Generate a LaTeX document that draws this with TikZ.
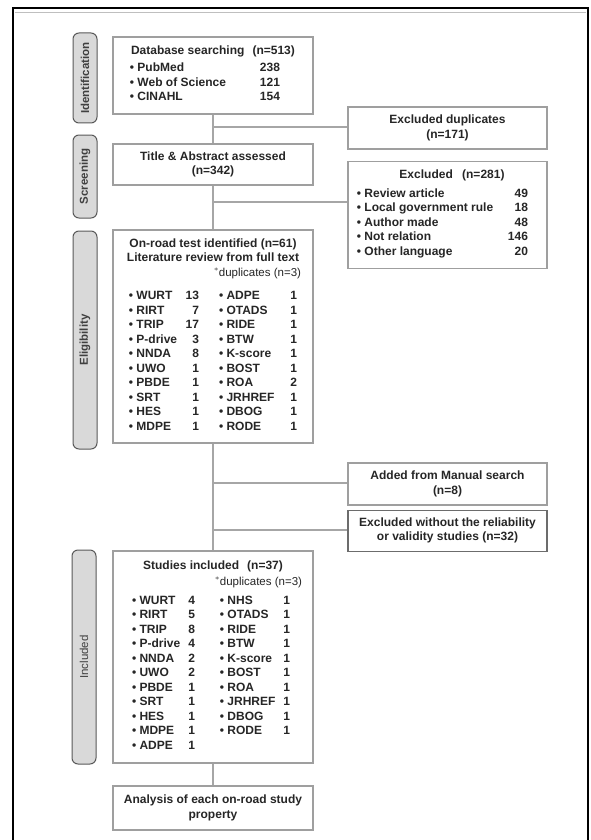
\documentclass[tikz,border=0pt]{standalone}
\usepackage{fontspec}
\setmainfont{Liberation Sans}
\usepackage{array}
\usetikzlibrary{positioning}

\newcommand{\boxfont}{\fontsize{12}{14.5}\selectfont\bfseries}
\newcommand{\itm}{\makebox[7.5pt][l]{\textbullet}}
\newcommand{\dupnote}{{\fontsize{11.5}{12}\selectfont\mdseries$^{*}$duplicates (n=3)}}

\tikzset{
    box/.style={draw=gray!75, line width=1.1pt, fill=white, align=center, inner sep=0pt, text=black!85, font=\boxfont},
    stage/.style={draw=gray!70!black, line width=1pt, fill=gray!30, rounded corners=6pt, rotate=90,
        minimum height=24, inner sep=0pt, text=black!75, font=\fontsize{11.5}{13}\selectfont\bfseries},
    link/.style={draw=gray!70, line width=1.1pt},
}

\begin{document}
\begin{tikzpicture}[x=1pt, y=-1pt]
    \useasboundingbox (0,0) rectangle (591,840);
    % frame
    \draw[line width=2.5pt] (13,842) -- (13,8) -- (588,8) -- (588,842);
    \draw[gray!50, line width=1.2pt] (15,12.5) -- (586,12.5);

    % stages
    \node[stage, minimum width=90] (ident) at (85,78) {Identification};
    \node[stage, minimum width=83] (screen) at (85,176.5) {Screening};
    \node[stage, minimum width=218] (elig) at (85,340) {Eligibility};
    \node[stage, minimum width=214, font=\fontsize{11.5}{13}\selectfont] (incl) at (84,657) {Included};

    % main column
    \node[box, minimum width=200, minimum height=77] (db) at (213,75.5) {%
        Database searching\hspace{0.4em} (n=513)\\[2.5pt]
        \hspace*{-16pt}\begin{tabular}[t]{@{}p{130pt}@{}r@{}}
        \itm PubMed & 238\\
        \itm Web of Science & 121\\
        \itm CINAHL & 154
        \end{tabular}};
    \node[box, minimum width=200, minimum height=41] (title) at (213,164.5) {Title \& Abstract assessed\\(n=342)};
    \node[box, minimum width=200, minimum height=213] (onroad) at (213,336.5) {%
        On-road test identified (n=61)\\
        Literature review from full text\\
        \makebox[176pt][r]{\dupnote}\\[9pt]
        \begin{tabular}[t]{@{}p{56.7pt}@{}r@{\hspace{20pt}}p{71.3pt}@{}r@{}}
        \itm WURT & 13 & \itm ADPE & 1\\
        \itm RIRT & 7 & \itm OTADS & 1\\
        \itm TRIP & 17 & \itm RIDE & 1\\
        \itm P-drive & 3 & \itm BTW & 1\\
        \itm NNDA & 8 & \itm K-score & 1\\
        \itm UWO & 1 & \itm BOST & 1\\
        \itm PBDE & 1 & \itm ROA & 2\\
        \itm SRT & 1 & \itm JRHREF & 1\\
        \itm HES & 1 & \itm DBOG & 1\\
        \itm MDPE & 1 & \itm RODE & 1
        \end{tabular}};
    \node[box, minimum width=200, minimum height=212] (studies) at (213,657) {%
        Studies included\hspace{0.4em} (n=37)\\[1.5pt]
        \makebox[178pt][r]{\dupnote}\\[4.5pt]
        \hspace*{-4pt}\begin{tabular}[t]{@{}p{56.3pt}@{}r@{\hspace{25pt}}p{63.3pt}@{}r@{}}
        \itm WURT & 4 & \itm NHS & 1\\
        \itm RIRT & 5 & \itm OTADS & 1\\
        \itm TRIP & 8 & \itm RIDE & 1\\
        \itm P-drive & 4 & \itm BTW & 1\\
        \itm NNDA & 2 & \itm K-score & 1\\
        \itm UWO & 2 & \itm BOST & 1\\
        \itm PBDE & 1 & \itm ROA & 1\\
        \itm SRT & 1 & \itm JRHREF & 1\\
        \itm HES & 1 & \itm DBOG & 1\\
        \itm MDPE & 1 & \itm RODE & 1\\
        \itm ADPE & 1 & &
        \end{tabular}};
    \node[box, minimum width=200, minimum height=44] (analysis) at (213,808) {Analysis of each on-road study\\property};

    % side column
    \node[box, minimum width=199, minimum height=42] (dup) at (447.5,128) {Excluded duplicates\\(n=171)};
    \node[box, minimum width=199, minimum height=107] (excl) [below=11pt of dup] {%
        \hspace*{9pt}Excluded\hspace{0.5em} (n=281)\\[4.5pt]
        \hspace*{-10pt}\begin{tabular}[t]{@{}p{151pt}@{}r@{}}
        \itm Review article & 49\\
        \itm Local government rule & 18\\
        \itm Author made & 48\\
        \itm Not relation & 146\\
        \itm Other language & 20
        \end{tabular}};
    \node[box, minimum width=199, minimum height=42] (added) at (447.5,484) {Added from Manual search\\(n=8)};
    \node[box, minimum width=199, minimum height=41, draw=gray!85!black] (exclval) [below=4pt of added] {Excluded without the reliability\\or validity studies (n=32)};

    % connectors
    \draw[link] (db) -- (title);
    \draw[link] (title) -- (onroad);
    \draw[link] (onroad) -- (studies);
    \draw[link] (studies) -- (analysis);
    \coordinate (b1) at (213,127);
    \coordinate (b2) at (213,202);
    \coordinate (b3) at (213,483);
    \coordinate (b4) at (213,530);
    \draw[link] (b1) -- (b1 -| dup.west);
    \draw[link] (b2) -- (b2 -| excl.west);
    \draw[link] (b3) -- (b3 -| added.west);
    \draw[link] (b4) -- (b4 -| exclval.west);
\end{tikzpicture}
\end{document}
